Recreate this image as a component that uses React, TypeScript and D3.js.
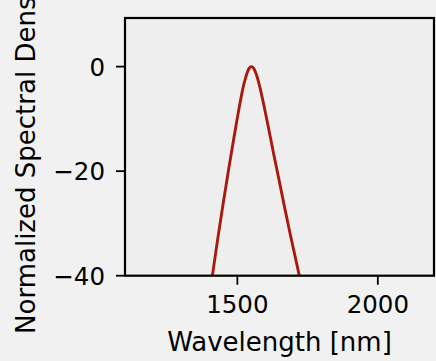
import React, { useRef, useEffect } from 'react';
import * as d3 from 'd3';

// spectrum (wavelength in nm, level in dB)
const wavelengths = [1400, 1411, 1430, 1450, 1470, 1490, 1510, 1520, 1530, 1540, 1545, 1550, 1555, 1560, 1570, 1580, 1590, 1610, 1630, 1650, 1670, 1690, 1710, 1720, 1730];
const levels = [-44, -40, -33, -26, -19.3, -12.9, -6.8, -4.1, -2.0, -0.5, -0.13, 0, -0.13, -0.5, -1.9, -3.9, -6.3, -11.5, -16.9, -22.1, -27.4, -32.5, -37.4, -39.9, -42.5];

const xTicks = [1500, 2000];
const yTicks = [0, -20, -40];
const xDomain = [1100, 2200];
const yDomain = [-40, 9.3];

const W = 436;
const H = 361;

export const SpectrumChart: React.FC = () => {
  const svgRef = useRef<SVGSVGElement>(null);
  const margin = { top: 18, right: 2, bottom: 85.3, left: 125 };

  useEffect(() => {
    if (!svgRef.current) return;
    const svg = d3.select(svgRef.current);
    svg.selectAll('*').remove();

    const innerWidth = W - margin.left - margin.right;
    const innerHeight = H - margin.top - margin.bottom;

    svg.append('rect').attr('width', W).attr('height', H).attr('fill', '#f1f1f1');

    const g = svg.append('g').attr('transform', `translate(${margin.left},${margin.top})`);

    const x = d3.scaleLinear().domain(xDomain).range([0, innerWidth]);
    const y = d3.scaleLinear().domain(yDomain).range([innerHeight, 0]);

    g.append('rect')
      .attr('width', innerWidth)
      .attr('height', innerHeight)
      .attr('fill', '#eeeeee');

    svg.append('defs').append('clipPath').attr('id', 'plot-clip')
      .append('rect').attr('width', innerWidth).attr('height', innerHeight);

    const pts: [number, number][] = wavelengths.map((w, i) => [w, levels[i]]);
    const line = d3.line<[number, number]>()
      .x(d => x(d[0]))
      .y(d => y(d[1]))
      .curve(d3.curveMonotoneX);

    g.append('path')
      .datum(pts)
      .attr('clip-path', 'url(#plot-clip)')
      .attr('d', line)
      .attr('fill', 'none')
      .attr('stroke', '#a8190e')
      .attr('stroke-width', 2.9)
      .attr('stroke-linejoin', 'round');

    // frame
    g.append('rect')
      .attr('width', innerWidth)
      .attr('height', innerHeight)
      .attr('fill', 'none')
      .attr('stroke', '#000')
      .attr('stroke-width', 2.2);

    const font = 'DejaVu Sans, sans-serif';

    // X ticks
    xTicks.forEach(t => {
      g.append('line')
        .attr('x1', x(t)).attr('x2', x(t))
        .attr('y1', innerHeight).attr('y2', innerHeight + 9)
        .attr('stroke', '#000').attr('stroke-width', 1.8);
      g.append('text')
        .attr('x', x(t))
        .attr('y', innerHeight + 37.5)
        .attr('text-anchor', 'middle')
        .attr('font-family', font)
        .attr('font-size', 24.5)
        .attr('fill', '#000')
        .text(d3.format('d')(t));
    });

    // Y ticks
    yTicks.forEach(t => {
      g.append('line')
        .attr('x1', -9).attr('x2', 0)
        .attr('y1', y(t)).attr('y2', y(t))
        .attr('stroke', '#000').attr('stroke-width', 1.8);
      g.append('text')
        .attr('x', -20)
        .attr('y', y(t) + 8.9)
        .attr('text-anchor', 'end')
        .attr('font-family', font)
        .attr('font-size', 24.5)
        .attr('fill', '#000')
        .text(t < 0 ? `\u2212${Math.abs(t)}` : `${t}`);
    });

    g.append('text')
      .attr('x', innerWidth / 2)
      .attr('y', innerHeight + 75.5)
      .attr('text-anchor', 'middle')
      .attr('font-family', font)
      .attr('font-size', 26)
      .attr('fill', '#000')
      .text('Wavelength [nm]');

    svg.append('text')
      .attr('transform', `translate(35,${margin.top + innerHeight / 2 + 2}) rotate(-90)`)
      .attr('text-anchor', 'middle')
      .attr('font-family', font)
      .attr('font-size', 26)
      .attr('fill', '#000')
      .text('Normalized Spectral Density');
  }, []);

  return (
    <div style={{ position: 'absolute', left: 0, top: 0 }}>
      <svg ref={svgRef} width={W} height={H} style={{ display: 'block' }} />
    </div>
  );
};

export default SpectrumChart;
